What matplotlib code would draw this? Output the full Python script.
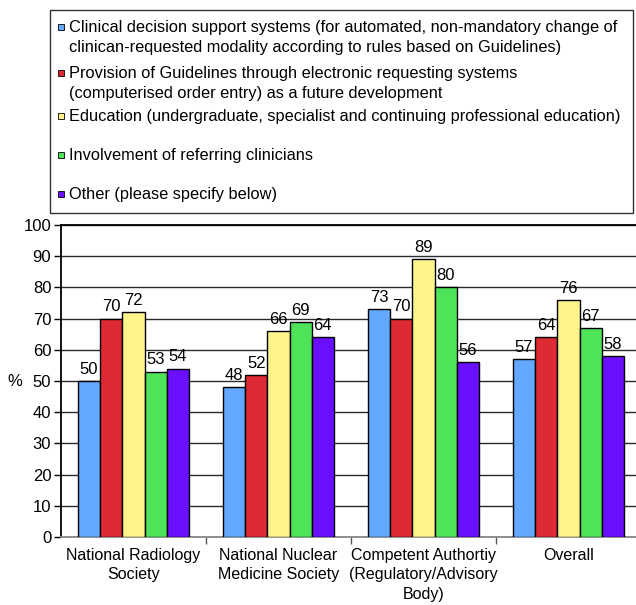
import matplotlib

matplotlib.use("Agg")
import matplotlib.pyplot as plt
import numpy as np
from matplotlib.patches import Rectangle

plt.rcParams["font.family"] = ["Liberation Sans", "DejaVu Sans"]

categories = [
    "National Radiology\nSociety",
    "National Nuclear\nMedicine Society",
    "Competent Authortiy\n(Regulatory/Advisory\nBody)",
    "Overall",
]
series_names = [
    "Clinical decision support systems (for automated, non-mandatory change of\nclinican-requested modality according to rules based on Guidelines)",
    "Provision of Guidelines through electronic requesting systems\n(computerised order entry) as a future development",
    "Education (undergraduate, specialist and continuing professional education)",
    "Involvement of referring clinicians",
    "Other (please specify below)",
]
cds = [50, 48, 73, 57]
guidelines = [70, 52, 70, 64]
education = [72, 66, 89, 76]
involvement = [53, 69, 80, 67]
other = [54, 64, 56, 58]
series_values = [cds, guidelines, education, involvement, other]
colors = ["#62A8FF", "#DD2A33", "#FFF48A", "#4FE35A", "#6A0FFF"]

fig = plt.figure(figsize=(6.36, 6.05), dpi=100)
ax = fig.add_axes([61 / 636, 1 - 537 / 605, 580 / 636, 312 / 605])

bar_w = 0.153
x = np.arange(len(categories)) + 0.5
for i, (vals, col) in enumerate(zip(series_values, colors)):
    pos = x + (i - 2) * bar_w
    ax.bar(pos, vals, width=bar_w, color=col, edgecolor="black", linewidth=1.0, zorder=3)
    for px, v in zip(pos, vals):
        ax.annotate(str(v), (px, v), xytext=(0, 3), textcoords="offset points",
                    ha="center", va="bottom", fontsize=12, zorder=4)

ax.set_xlim(0, 4)
ax.set_ylim(0, 100)
ax.set_yticks(range(0, 101, 10))
ax.tick_params(axis="y", labelsize=12, length=5, width=1, direction="out", pad=2)
ax.yaxis.grid(True, color="#2a2a2a", linewidth=1.0, zorder=0)
ax.set_axisbelow(True)

ax.set_xticks([1, 2, 3, 4])
ax.set_xticklabels([])
ax.set_xticks(x, minor=True)
ax.set_xticklabels(categories, minor=True, fontsize=11.5, linespacing=1.35)
ax.tick_params(axis="x", which="major", length=5, width=1, color="#555555")
ax.tick_params(axis="x", which="minor", length=0, pad=8)

for side in ["left", "top", "right"]:
    ax.spines[side].set_color("black")
    ax.spines[side].set_linewidth(1.3)
ax.spines["bottom"].set_color("#888888")
ax.spines["bottom"].set_linewidth(1.3)

ax.set_ylabel("%", rotation=0, fontsize=12, va="center")
ax.yaxis.set_label_coords(-0.08, 0.5)

# legend box drawn by hand to match the layout of the original
W, H = 636, 605
fig.patches.append(Rectangle((50 / W, 1 - 213 / H), 583 / W, 203 / H, transform=fig.transFigure,
                             facecolor="white", edgecolor="#333333", linewidth=1.0))
entry_y = [27, 73, 116, 155, 194]
for name, col, y in zip(series_names, colors, entry_y):
    fig.patches.append(Rectangle((58 / W, 1 - (y + 3) / H), 6 / W, 6 / H, transform=fig.transFigure,
                                 facecolor=col, edgecolor="black", linewidth=0.6))
    fig.text(69 / W, 1 - (y - 7) / H, name, fontsize=11.8, va="top", ha="left", linespacing=1.45)

fig.savefig("out.png", dpi=100)
